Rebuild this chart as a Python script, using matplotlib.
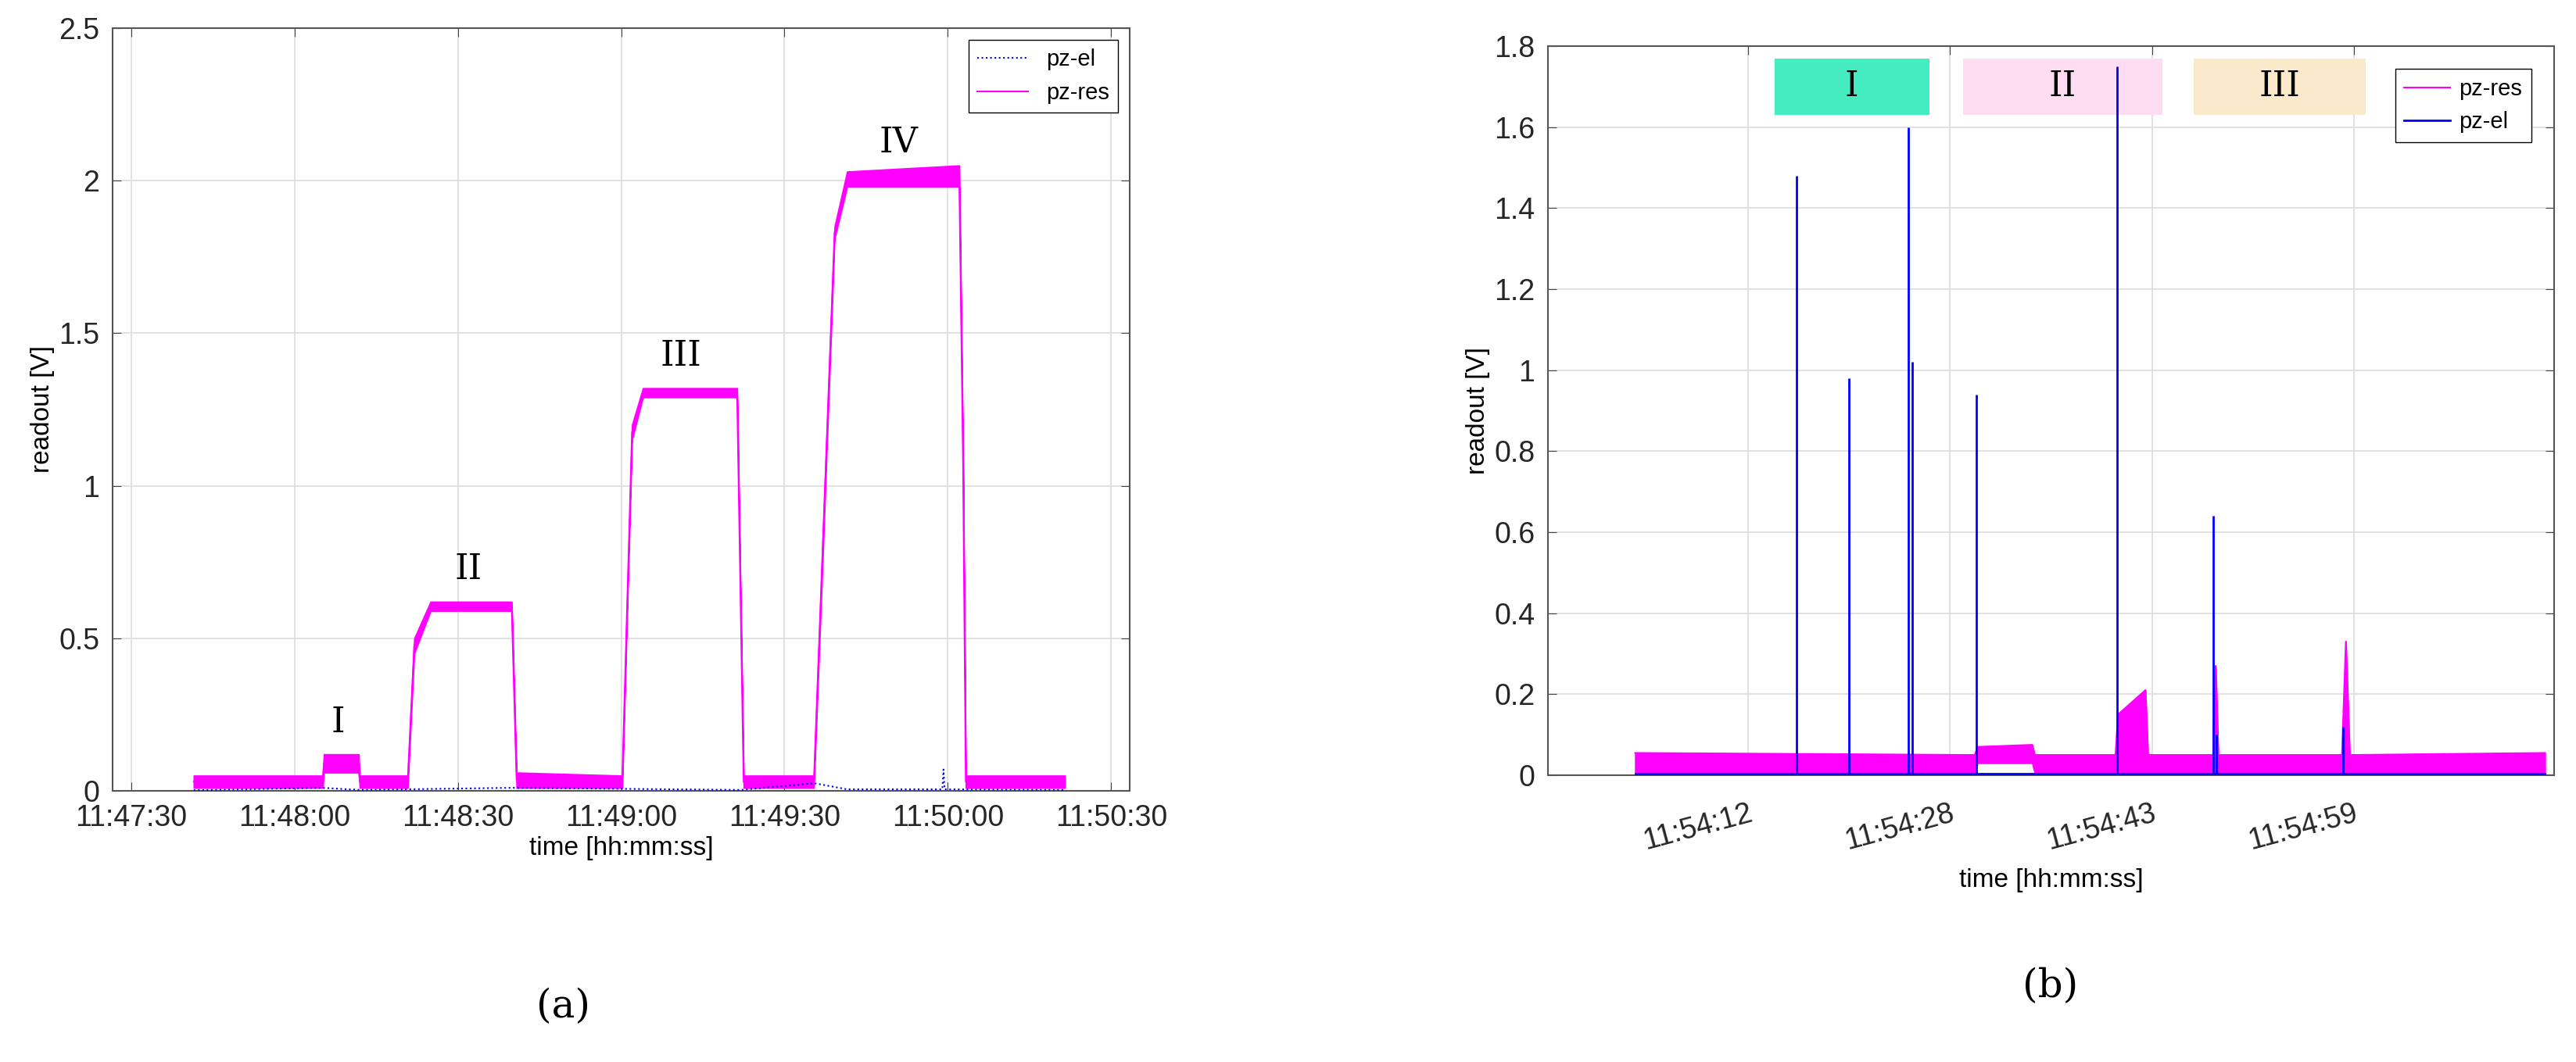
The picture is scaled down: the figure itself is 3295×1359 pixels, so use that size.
import matplotlib
matplotlib.use("Agg")
import matplotlib.pyplot as plt

# ---------- panel (a) data (seconds after 11:47:30) ----------
a_tick_pos = [0, 30, 60, 90, 120, 150, 180]
a_tick_lab = ["11:47:30", "11:48:00", "11:48:30", "11:49:00", "11:49:30", "11:50:00", "11:50:30"]
a_res_t  = [11.5, 35.2, 35.4, 41.8, 42.0, 50.8, 52.0, 55.0, 69.9, 70.8, 90.2, 92.0, 94.0, 111.3, 112.5, 125.4, 127.0, 129.2, 131.5, 152.1, 152.8, 153.3, 171.5]
a_res_lo = [0.01, 0.01, 0.06, 0.06, 0.01, 0.01, 0.45, 0.59, 0.59, 0.01, 0.01, 1.15, 1.29, 1.29, 0.01, 0.01, 0.75, 1.81, 1.98, 1.98, 1.05, 0.01, 0.01]
a_res_hi = [0.05, 0.05, 0.12, 0.12, 0.05, 0.05, 0.50, 0.62, 0.62, 0.06, 0.05, 1.20, 1.32, 1.32, 0.05, 0.05, 0.82, 1.85, 2.03, 2.05, 1.10, 0.05, 0.05]
a_el_t = [11.5, 35.0, 42.0, 70.0, 112.0, 125.5, 131.5, 149.0, 149.2, 149.4, 171.5]
a_el_v = [0.002, 0.01, 0.003, 0.01, 0.003, 0.025, 0.005, 0.005, 0.07, 0.005, 0.003]
a_labels = ["I", "II", "III", "IV"]
a_label_x = [38, 62, 101, 141]
a_label_y = [0.17, 0.67, 1.37, 2.07]

# ---------- panel (b) data (seconds, ticks at 12, 27.5, 43, 58.5) ----------
b_tick_pos = [12, 27.5, 43, 58.5]
b_tick_lab = ["11:54:12", "11:54:28", "11:54:43", "11:54:59"]
b_res_t  = [3.3, 29.4, 29.6, 33.8, 34.0, 40.2, 40.4, 42.5, 42.7, 47.7, 47.9, 48.1, 57.6, 57.9, 58.2, 73.2]
b_res_lo = [0.005, 0.005, 0.03, 0.03, 0.005, 0.005, 0.005, 0.005, 0.005, 0.005, 0.005, 0.005, 0.005, 0.005, 0.005, 0.005]
b_res_hi = [0.055, 0.05, 0.07, 0.075, 0.05, 0.05, 0.15, 0.21, 0.05, 0.05, 0.27, 0.05, 0.05, 0.33, 0.05, 0.055]
b_spike_t = [15.7, 19.7, 24.3, 24.6, 29.5, 40.3, 47.7, 47.95, 57.7]
b_spike_v = [1.48, 0.98, 1.60, 1.02, 0.94, 1.75, 0.64, 0.10, 0.12]
b_boxes = ["I", "II", "III"]
b_box_x0 = [14.0, 28.5, 46.2]
b_box_x1 = [25.9, 43.8, 59.4]
b_box_col = ["#45ECC0", "#FEDDF2", "#FAEACB"]

MAG = "#FF00FF"
BLU = "#0000FF"
FONT = "Liberation Sans"

fig = plt.figure(figsize=(32.95, 13.59), dpi=100)

# ---- (a)
ax = fig.add_axes([144 / 3295, 1 - 1012 / 1359, (1445 - 144) / 3295, (1012 - 36) / 1359])
ax.fill_between(a_res_t, a_res_lo, a_res_hi, color=MAG, lw=1.2, zorder=3)
ax.plot(a_res_t, [(l + h) / 2 for l, h in zip(a_res_lo, a_res_hi)], color=MAG, lw=1.5, label="pz-res", zorder=3)
ax.plot(a_el_t, a_el_v, color=BLU, lw=1.5, ls=":", label="pz-el", zorder=4)
ax.set_xlim(-3.4, 183.4)
ax.set_ylim(0, 2.5)
ax.set_xticks(a_tick_pos)
ax.set_xticklabels(a_tick_lab)
ax.set_yticks([0, 0.5, 1, 1.5, 2, 2.5])
ax.set_yticklabels(["0", "0.5", "1", "1.5", "2", "2.5"])
for lab, x, y in zip(a_labels, a_label_x, a_label_y):
    ax.text(x, y, lab, ha="center", va="bottom", fontsize=32, family="DejaVu Serif")
ax.set_xlabel("time [hh:mm:ss]", fontsize=24, family=FONT)
ax.set_ylabel("readout [V]", fontsize=24, family=FONT)
h, l = ax.get_legend_handles_labels()
ax.legend([h[1], h[0]], [l[1], l[0]], loc="upper right", fancybox=False, handlelength=2.2,
          edgecolor="black", framealpha=1, prop={"family": FONT, "size": 21})

# ---- (b)
bx = fig.add_axes([1980 / 3295, 1 - 992 / 1359, (3267 - 1980) / 3295, (992 - 59) / 1359])
for lab, x0, x1, c in zip(b_boxes, b_box_x0, b_box_x1, b_box_col):
    bx.fill_between([x0, x1], 1.63, 1.77, color=c, lw=0, zorder=1)
    bx.text((x0 + x1) / 2, 1.70, lab, ha="center", va="center", fontsize=32, family="DejaVu Serif", zorder=2)
bx.fill_between(b_res_t, b_res_lo, b_res_hi, color=MAG, lw=1.2, zorder=3)
bx.plot(b_res_t, b_res_hi, color=MAG, lw=1.5, label="pz-res", zorder=3)
bx.plot([3.3, 73.2], [0.003, 0.003], color=BLU, lw=2, label="pz-el", zorder=4)
bx.vlines(b_spike_t, 0, b_spike_v, color=BLU, lw=2, zorder=4)
bx.set_xlim(-3.4, 73.9)
bx.set_ylim(0, 1.8)
bx.set_xticks(b_tick_pos)
bx.set_xticklabels(b_tick_lab, rotation=15, ha="right", rotation_mode="anchor")
bx.set_yticks([0, 0.2, 0.4, 0.6, 0.8, 1.0, 1.2, 1.4, 1.6, 1.8])
bx.set_yticklabels(["0", "0.2", "0.4", "0.6", "0.8", "1", "1.2", "1.4", "1.6", "1.8"])
bx.set_xlabel("time [hh:mm:ss]", fontsize=24, family=FONT, labelpad=12)
bx.set_ylabel("readout [V]", fontsize=24, family=FONT)
bx.legend(loc="upper right", fancybox=False, edgecolor="black", framealpha=1,
          handlelength=2.0, handletextpad=0.4, borderaxespad=1.0, prop={"family": FONT, "size": 21})

for a in (ax, bx):
    a.grid(True, color="#DDDDDD", lw=1.2)
    a.set_axisbelow(True)
    a.tick_params(direction="in", labelsize=27, top=True, right=True, length=8, color="#444444", pad=12)
    for t in a.get_xticklabels() + a.get_yticklabels():
        t.set_family(FONT)
        t.set_color("#262626")
    for s in a.spines.values():
        s.set_color("#555555")
        s.set_linewidth(1.5)
bx.tick_params(axis="x", pad=22)

fig.text(720 / 3295, 1 - 1288 / 1359, "(a)", ha="center", va="center", fontsize=36, family="DejaVu Serif")
fig.text(2623 / 3295, 1 - 1262 / 1359, "(b)", ha="center", va="center", fontsize=36, family="DejaVu Serif")
fig.savefig("out.png", dpi=100)
